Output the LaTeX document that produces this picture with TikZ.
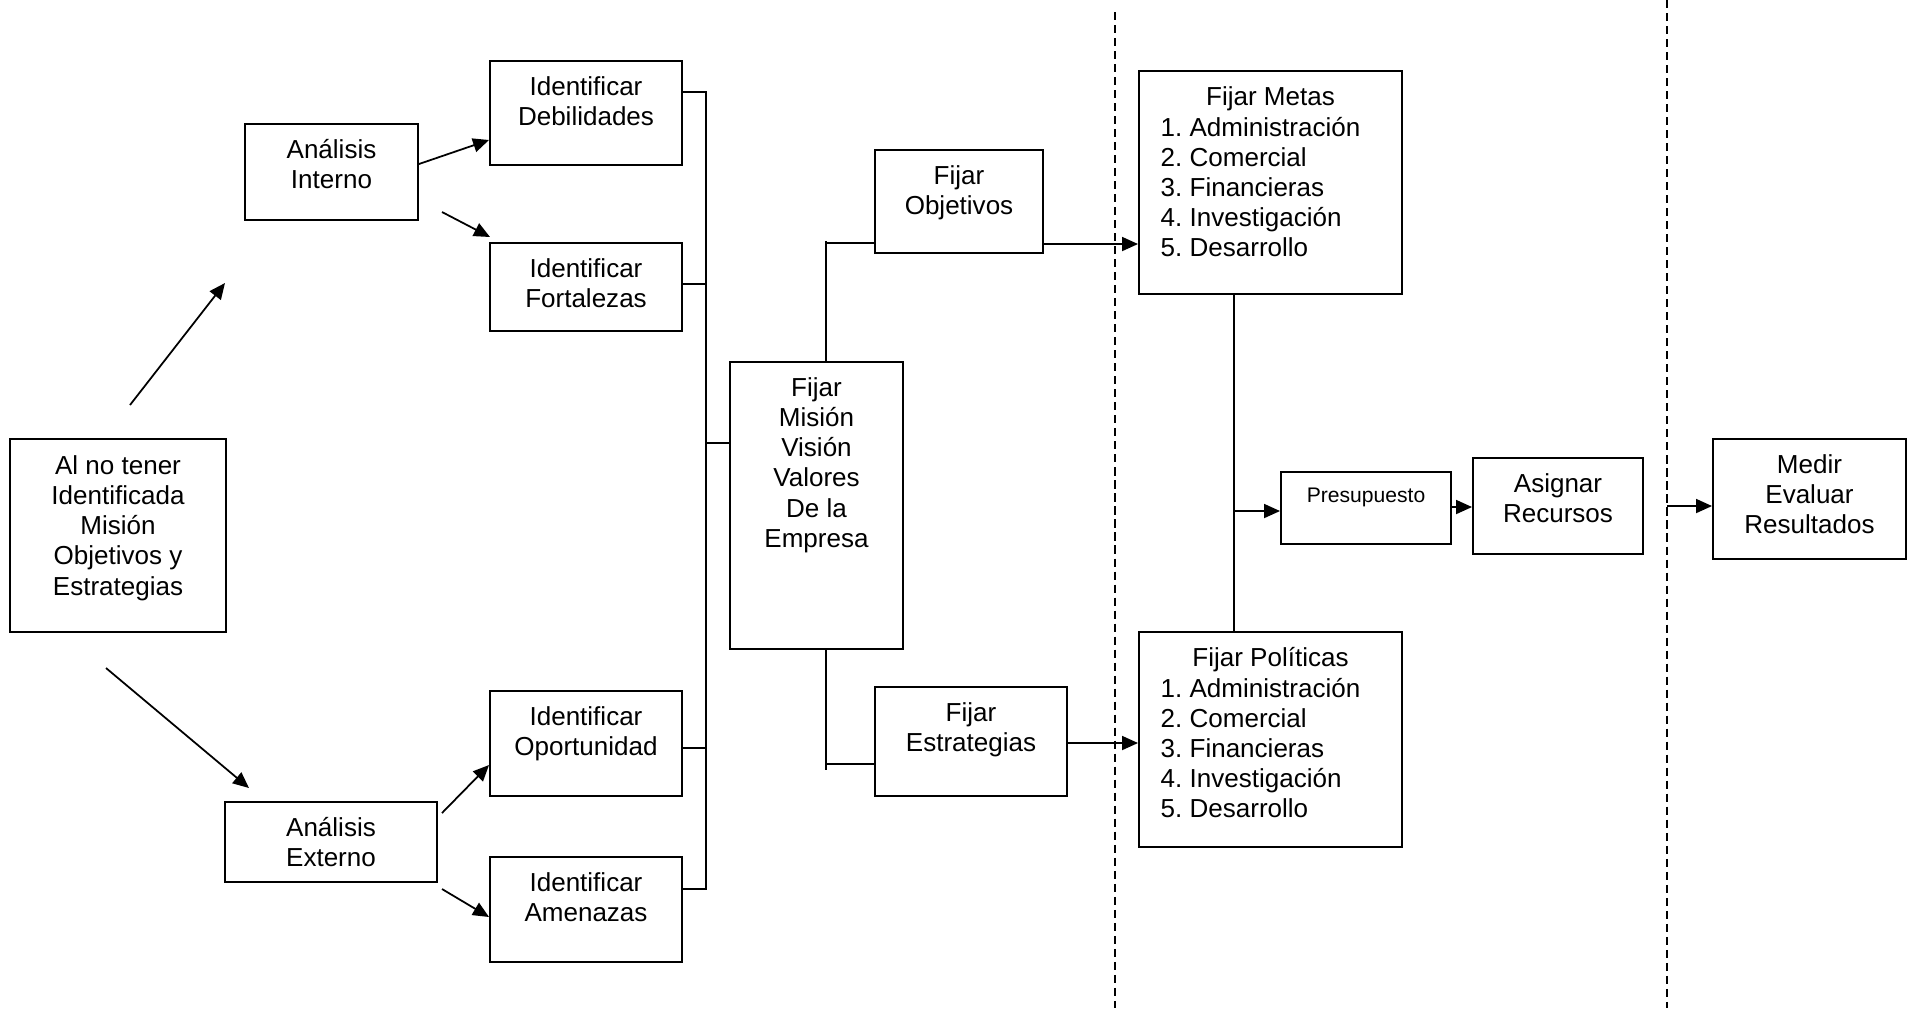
\documentclass[tikz,border=0pt]{standalone}
\usepackage{fontspec}
\setmainfont{Liberation Sans}
\usetikzlibrary{arrows.meta,fit}
\frenchspacing
% stacked lines whose baseline is the baseline of the first line
\newcommand\mlc[1]{\vtop{\let\\\cr\halign{\hfil##\hfil\cr#1\crcr}}}
\newcommand\mll[1]{\vtop{\let\\\cr\halign{##\hfil\cr#1\crcr}}}
\begin{document}
\begin{tikzpicture}[x=0.01cm,y=-0.01cm,
  box/.style={draw,line width=0.55pt,inner sep=0pt},
  txt/.style={anchor=base,inner sep=0pt,font=\fontsize{7.4}{8.6}\selectfont},
  lst/.style={anchor=base west,inner sep=0pt,font=\fontsize{7.4}{8.6}\selectfont},
  small/.style={anchor=base,inner sep=0pt,font=\fontsize{6}{7}\selectfont},
  wire/.style={line width=0.5pt},
  arr/.style={line width=0.5pt,-{Triangle[length=0.16cm,width=0.14cm]}},
  sep/.style={line width=0.45pt,dash pattern=on 2.3pt off 1.4pt}]
\useasboundingbox (0,0) rectangle (1915,1008);

% boxes
\node[box,fit={(10,439)(226,632)}]    (start) {};
\node[box,fit={(245,124)(418,220)}]   (ai) {};
\node[box,fit={(225,802)(437,882)}]   (ae) {};
\node[box,fit={(490,61)(682,165)}]    (deb) {};
\node[box,fit={(490,243)(682,331)}]   (fort) {};
\node[box,fit={(490,691)(682,796)}]   (opo) {};
\node[box,fit={(490,857)(682,962)}]   (ame) {};
\node[box,fit={(730,362)(903,649)}]   (mis) {};
\node[box,fit={(875,150)(1043,253)}]  (obj) {};
\node[box,fit={(875,687)(1067,796)}]  (est) {};
\node[box,fit={(1139,71)(1402,294)}]  (metas) {};
\node[box,fit={(1139,632)(1402,847)}] (pol) {};
\node[box,fit={(1281,472)(1451,544)}] (pres) {};
\node[box,fit={(1473,458)(1643,554)}] (asig) {};
\node[box,fit={(1713,439)(1906,559)}] (medir) {};

% texts
\node[txt] (t-start) at ([yshift=-0.36cm]start.north) {\mlc{Al no tener\\Identificada\\Misión\\Objetivos y\\Estrategias}};
\node[txt] (t-ai) at ([yshift=-0.35cm]ai.north) {\mlc{Análisis\\Interno}};
\node[txt] (t-ae) at ([yshift=-0.35cm]ae.north) {\mlc{Análisis\\Externo}};
\node[txt] (t-deb) at ([yshift=-0.35cm]deb.north) {\mlc{Identificar\\Debilidades}};
\node[txt] (t-fort) at ([yshift=-0.35cm]fort.north) {\mlc{Identificar\\Fortalezas}};
\node[txt] (t-opo) at ([yshift=-0.35cm]opo.north) {\mlc{Identificar\\Oportunidad}};
\node[txt] (t-ame) at ([yshift=-0.35cm]ame.north) {\mlc{Identificar\\Amenazas}};
\node[txt] (t-mis) at ([yshift=-0.35cm]mis.north) {\mlc{Fijar\\Misión\\Visión\\Valores\\De la\\Empresa}};
\node[txt] (t-obj) at ([yshift=-0.35cm]obj.north) {\mlc{Fijar\\Objetivos}};
\node[txt] (t-est) at ([yshift=-0.35cm]est.north) {\mlc{Fijar\\Estrategias}};
\node[txt] (t-metas) at ([yshift=-0.35cm]metas.north) {Fijar Metas};
\node[lst] (l-metas) at (1160,136) {\mll{1. Administración\\2. Comercial\\3. Financieras\\4. Investigación\\5. Desarrollo}};
\node[txt] (t-pol) at ([yshift=-0.35cm]pol.north) {Fijar Políticas};
\node[lst] (l-pol) at (1160,697) {\mll{1. Administración\\2. Comercial\\3. Financieras\\4. Investigación\\5. Desarrollo}};
\node[small] (t-pres) at ([yshift=-0.31cm]pres.north) {Presupuesto};
\node[txt] (t-asig) at ([yshift=-0.35cm]asig.north) {\mlc{Asignar\\Recursos}};
\node[txt] (t-medir) at ([yshift=-0.35cm]medir.north) {\mlc{Medir\\Evaluar\\Resultados}};

% free ends of the loose arrows and separators
\coordinate (up0) at (130,405);   \coordinate (up1) at (225,283);
\coordinate (dn0) at (106,668);   \coordinate (dn1) at (249,788);
\coordinate (f0) at (442,212);    \coordinate (f1) at (490,237);
\coordinate (o0) at (442,813);    \coordinate (a0) at (442,889);
\coordinate (bt) at (706,92);     \coordinate (bb) at (706,889);
\coordinate (s1t) at (1115,12);   \coordinate (s1b) at (1115,1008);
\coordinate (s2t) at (1667,0);    \coordinate (s2b) at (1667,1008);

% separators
\draw[sep] (s1t) -- (s1b);
\draw[sep] (s2t) -- (s2b);

% analysis arrows
\draw[arr] (up0) -- (up1);
\draw[arr] (dn0) -- (dn1);
\draw[arr] (ai.east |- 0,164) -- (deb.west |- 0,140);
\draw[arr] (f0) -- (f1);
\draw[arr] (o0) -- (opo.west |- 0,765);
\draw[arr] (a0) -- (ame.west |- 0,917);

% bracket joining the four boxes
\draw[wire] (deb.east |- bt) -- (bt) -- (bb) -- (ame.east |- bb);
\draw[wire] (fort.east |- 0,284) -- (706,284);
\draw[wire] (opo.east |- 0,748) -- (706,748);
\draw[wire] (706,443) -- (mis.west |- 0,443);

% mission to objectives and strategies
\draw[wire] (826,0 |- mis.north) -- (826,241);
\draw[wire] (826,243) -- (obj.west |- 0,243);
\draw[wire] (826,0 |- mis.south) -- (826,770);
\draw[wire] (826,764) -- (est.west |- 0,764);
\draw[arr] (obj.east |- 0,244) -- (metas.west |- 0,244);
\draw[arr] (est.east |- 0,743) -- (pol.west |- 0,743);

% goals, policies, budget
\draw[wire] (1234,0 |- metas.south) -- (1234,0 |- pol.north);
\draw[arr] (1234,511) -- (pres.west |- 0,511);
\draw[arr] (pres.east |- 0,507) -- (asig.west |- 0,507);
\draw[arr] (1667,506) -- (medir.west |- 0,506);
\end{tikzpicture}
\end{document}
